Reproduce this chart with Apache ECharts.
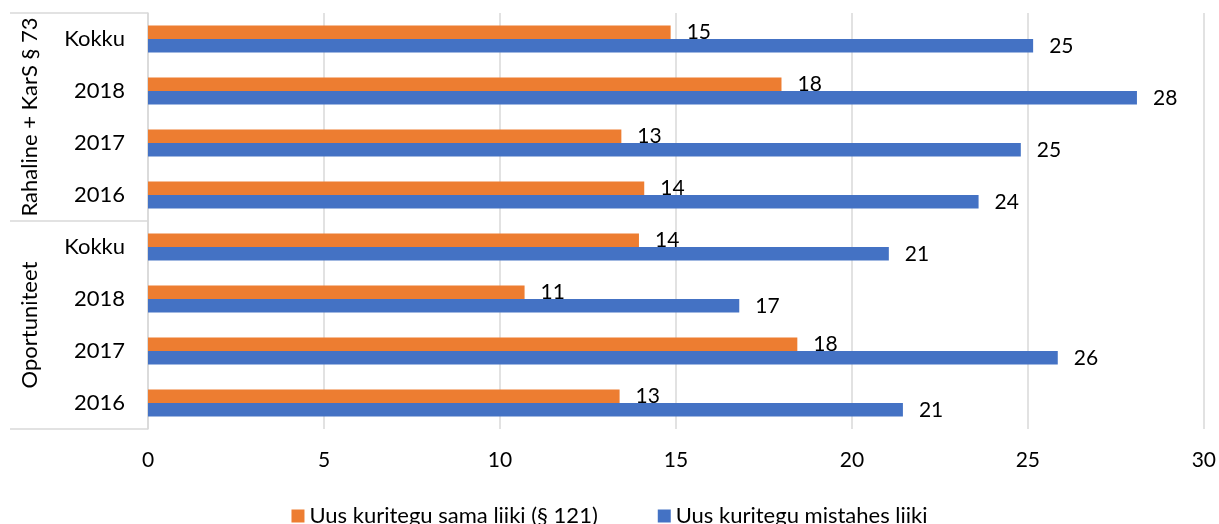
<!DOCTYPE html>
<html>
<head>
<meta charset="utf-8">
<script src="https://cdn.jsdelivr.net/npm/echarts@6/dist/echarts.min.js"></script>
<style>
  html, body { margin: 0; padding: 0; background: #fff; }
  #chart { width: 1219px; height: 524px; }
</style>
</head>
<body>
<div id="chart"></div>
<script>
// categories, bottom to top
var years = ['2016', '2017', '2018', 'Kokku', '2016', '2017', '2018', 'Kokku'];
var groups = ['Oportuniteet', 'Rahaline + KarS § 73'];
var seriesNames = ['Uus kuritegu sama liiki (§ 121)', 'Uus kuritegu mistahes liiki'];
var samaLiiki = [13.4, 18.45, 10.7, 13.95, 14.1, 13.45, 18.0, 14.85];
var mistahesLiiki = [21.45, 25.85, 16.8, 21.05, 23.6, 24.8, 28.1, 25.15];
var xTicks = [0, 5, 10, 15, 20, 25, 30];

var font = 'Lato, "Open Sans", sans-serif';

var myChart = echarts.init(document.getElementById('chart'));

var labelOpt = {
  show: true,
  position: 'right',
  distance: 16,
  color: '#000',
  fontSize: 21,
  fontFamily: font,
  formatter: function (p) { return Math.round(p.value); }
};

var option = {
  animation: false,
  backgroundColor: '#fff',
  grid: { left: 148, right: 15, top: 13, bottom: 95, containLabel: false },
  legend: {
    top: 500,
    left: 'center',
    itemWidth: 13,
    itemHeight: 13,
    itemGap: 60,
    icon: 'rect',
    textStyle: { color: '#000', fontSize: 22, fontFamily: font },
    data: seriesNames
  },
  xAxis: {
    type: 'value',
    min: xTicks[0],
    max: xTicks[xTicks.length - 1],
    interval: 5,
    axisLine: { show: false },
    axisTick: { show: false },
    splitLine: { lineStyle: { color: '#d9d9d9', width: 1.5 } },
    axisLabel: { color: '#000', fontSize: 21, fontFamily: font, margin: 21 }
  },
  yAxis: [
    {
      type: 'category',
      data: years,
      position: 'left',
      axisLine: { show: true, lineStyle: { color: '#d9d9d9', width: 1.5 } },
      axisTick: { show: false },
      axisLabel: { color: '#000', fontSize: 22, fontFamily: font, margin: 23, interval: 0 }
    },
    {
      type: 'category',
      data: groups,
      position: 'left',
      axisLine: { show: false },
      axisTick: { show: true, length: 138, lineStyle: { color: '#d9d9d9', width: 1.5 } },
      axisLabel: { color: '#000', fontSize: 22, fontFamily: font, rotate: 90, margin: 107, interval: 0 }
    }
  ],
  series: [
    {
      name: seriesNames[0],
      type: 'bar',
      yAxisIndex: 0,
      data: samaLiiki,
      barGap: '0%',
      barCategoryGap: '48%',
      itemStyle: { color: '#ED7D31' },
      label: labelOpt
    },
    {
      name: seriesNames[1],
      type: 'bar',
      yAxisIndex: 0,
      data: mistahesLiiki,
      barGap: '0%',
      barCategoryGap: '48%',
      itemStyle: { color: '#4472C4' },
      label: labelOpt
    }
  ]
};

myChart.setOption(option);
</script>
</body>
</html>
